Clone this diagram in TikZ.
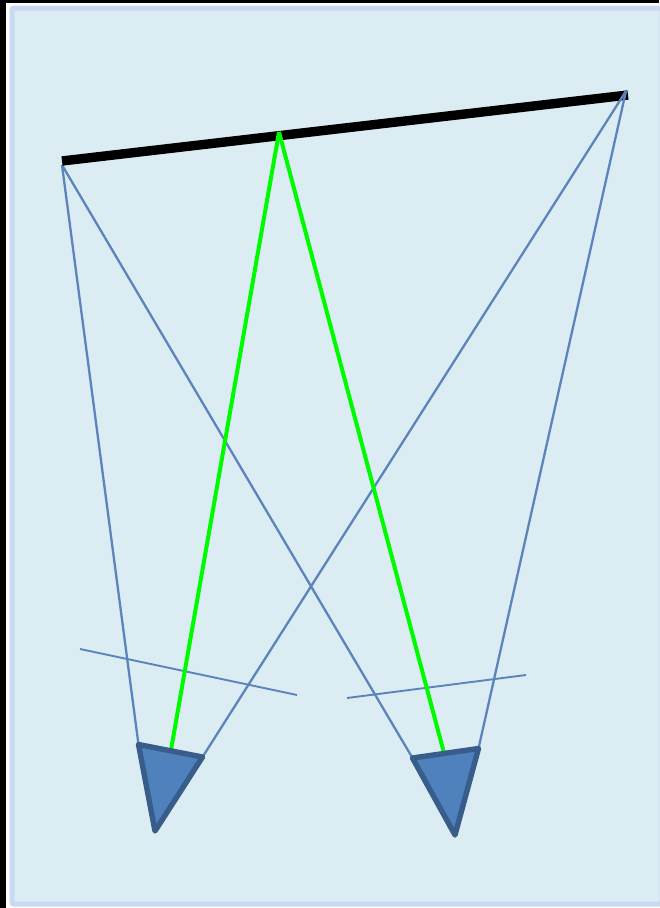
\documentclass[tikz,border=0pt]{standalone}
\definecolor{panelfill}{HTML}{DBEDF3}
\definecolor{paneledge}{HTML}{C9D9F1}
\definecolor{raycol}{HTML}{5B84BC}
\definecolor{camfill}{HTML}{4F81BD}
\definecolor{camedge}{HTML}{385D8A}
\definecolor{rayg}{HTML}{00FA00}
\tikzset{
  ray/.style={draw=raycol,line width=2.3pt},
  planeline/.style={draw=raycol,line width=1.9pt},
  greenray/.style={draw=rayg,line width=4pt},
  cam/.style={draw=camedge,fill=camfill,line width=5.4pt,line join=round},
  wall/.style={draw=black,line width=9.4pt}
}
\begin{document}
\begin{tikzpicture}[x=1pt,y=-1pt]
\useasboundingbox (0,0) rectangle (659,908);
\fill[black] (0,0) rectangle (659,908);
\fill[white] (6,3) rectangle (659,908);
\fill[panelfill,draw=paneledge,line width=5pt,rounded corners=2pt] (12,8) rectangle (662,904);
\coordinate (wl) at (62,161);
\coordinate (wr) at (628,95);
\coordinate (wm) at (279,132);
\coordinate (la) at (138.5,744.5);
\coordinate (lb) at (202.5,757);
\coordinate (lc) at (155,831);
\coordinate (ra) at (412.5,758);
\coordinate (rb) at (478.5,748.5);
\coordinate (rc) at (455,835);
\coordinate (lg) at (171,750);
\coordinate (rg) at (444,753);
\coordinate (p1) at (80,649);
\coordinate (p2) at (297,695);
\coordinate (p3) at (347,698);
\coordinate (p4) at (526,675);
\coordinate (lend) at (62,165);
\coordinate (rend) at (626,91);
\draw[ray] (lend) -- (la);
\draw[ray] (lend) -- (ra);
\draw[planeline] (p1) -- (p2);
\draw[planeline] (p3) -- (p4);
\draw[wall] (wl) -- (wr);
\draw[ray] (rend) -- (lb);
\draw[ray] (rend) -- (rb);
\draw[greenray] (wm) -- (lg);
\draw[greenray] (wm) -- (rg);
\draw[cam] (la) -- (lb) -- (lc) -- cycle;
\draw[cam] (ra) -- (rb) -- (rc) -- cycle;
\end{tikzpicture}
\end{document}
